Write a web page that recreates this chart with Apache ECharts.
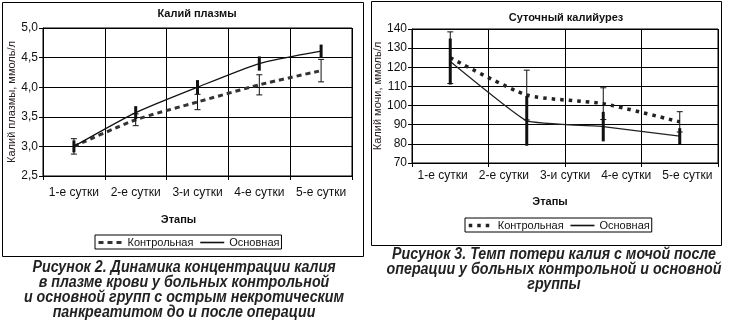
<!DOCTYPE html>
<html>
<head>
<meta charset="utf-8">
<script src="https://cdn.jsdelivr.net/npm/echarts@6/dist/echarts.min.js"></script>
<style>
  html, body { margin: 0; padding: 0; background: #fff; }
  #chart { width: 730px; height: 322px; }
</style>
</head>
<body>
<div id="chart"></div>
<script>
// Stage labels shared by both panels
const stageLabels = ['1-е сутки', '2-е сутки', '3-и сутки', '4-е сутки', '5-е сутки'];

// Plasma potassium, mmol/l (mean and half-width of error bar)
const plasmaControl = [3.0, 3.45, 3.75, 4.04, 4.28];
const plasmaControlErr = [0.13, 0.10, 0.13, 0.17, 0.19];
const plasmaMain = [3.0, 3.57, 4.0, 4.4, 4.61];
const plasmaMainErr = [0.10, 0.11, 0.12, 0.12, 0.11];
const plasmaTicks = ['2,5', '3,0', '3,5', '4,0', '4,5', '5,0'];

// Daily urinary potassium, mmol/l — four measurement points
const urineSamples = ['A', 'B', 'C', 'D'];
const urineControl = [125, 105.5, 101, 91.5];
const urineControlErr = [13.5, 13, 8.3, 5.3];
const urineMain = [123, 92, 89, 84];
const urineMainErr = [12, 13, 7.7, 4.2];

const FONT = 'Liberation Sans, Arial, sans-serif';
const INK = '#111';

function errData(vals, errs) {
  return vals.map((v, i) => [i, v - errs[i], v + errs[i]]);
}

// Vertical error bar, optionally with horizontal caps
function errBar(capHalf, width) {
  return function (params, api) {
    const i = api.value(0);
    const lo = api.coord([i, api.value(1)]);
    const hi = api.coord([i, api.value(2)]);
    const style = { stroke: INK, lineWidth: width };
    const children = [{ type: 'line', shape: { x1: lo[0], y1: lo[1], x2: hi[0], y2: hi[1] }, style }];
    if (capHalf > 0) {
      children.push({ type: 'line', shape: { x1: lo[0] - capHalf, y1: lo[1], x2: lo[0] + capHalf, y2: lo[1] }, style });
      children.push({ type: 'line', shape: { x1: hi[0] - capHalf, y1: hi[1], x2: hi[0] + capHalf, y2: hi[1] }, style });
    }
    return { type: 'group', children };
  };
}

const axisLine = { show: true, lineStyle: { color: '#000', width: 1 } };
const axisTick = { show: true, length: 4, lineStyle: { color: '#000' } };
const splitLine = { show: true, lineStyle: { color: '#000', width: 1 } };

const chart = echarts.init(document.getElementById('chart'), null, { renderer: 'canvas' });

const captionStyle = {
  font: 'italic bold 16px "Liberation Sans", Arial, sans-serif',
  fill: '#222',
  textAlign: 'center',
  textVerticalAlign: 'middle'
};

function caption(text, x, y) {
  return { type: 'text', x, y, scaleX: 0.89, style: Object.assign({ text }, captionStyle), silent: true };
}

const hiddenSymbol = { opacity: 0, color: 'transparent', borderWidth: 0 };

function legendBox(left, top, dashLine) {
  return {
    left, top, orient: 'horizontal',
    borderColor: '#000', borderWidth: 1, padding: [2, 2, 1, 2],
    itemWidth: 24, itemHeight: 10, itemGap: 6,
    itemStyle: hiddenSymbol,
    textStyle: { fontSize: 11, color: INK, fontFamily: FONT },
    data: [
      { name: 'Контрольная', itemStyle: hiddenSymbol, lineStyle: dashLine },
      { name: 'Основная', itemStyle: hiddenSymbol, lineStyle: { width: 1.6, color: INK, type: 'solid' } }
    ]
  };
}

chart.setOption({
  animation: false,
  textStyle: { fontFamily: FONT },
  graphic: [
    { type: 'rect', shape: { x: 2.5, y: 2.5, width: 361, height: 254 }, style: { fill: 'none', stroke: '#000', lineWidth: 1 }, silent: true },
    { type: 'rect', shape: { x: 371.5, y: 1.5, width: 350, height: 244 }, style: { fill: 'none', stroke: '#000', lineWidth: 1 }, silent: true },
    { type: 'text', x: 197, y: 14, style: { text: 'Калий плазмы', font: 'bold 11px ' + FONT, fill: INK, textAlign: 'center', textVerticalAlign: 'middle' } },
    { type: 'text', x: 566, y: 18, style: { text: 'Суточный калийурез', font: 'bold 11px ' + FONT, fill: INK, textAlign: 'center', textVerticalAlign: 'middle' } },
    caption('Рисунок 2. Динамика концентрации калия', 184, 268),
    caption('в плазме крови у больных контрольной', 184, 283),
    caption('и основной групп с острым некротическим', 184, 298),
    caption('панкреатитом до и после операции', 184, 313),
    caption('Рисунок 3. Темп потери калия с мочой после', 554, 255),
    caption('операции у больных контрольной и основной', 554, 270),
    caption('группы', 554, 285)
  ],
  grid: [
    { left: 43, top: 28, width: 309, height: 148, show: true, borderColor: '#000', borderWidth: 1, backgroundColor: 'transparent' },
    { left: 412, top: 29, width: 306, height: 134, show: true, borderColor: '#000', borderWidth: 1, backgroundColor: 'transparent' }
  ],
  legend: [
    legendBox(95, 235, { type: [5, 4], width: 3, color: '#333' }),
    legendBox(465, 218, { type: [3.5, 5], width: 3.5, color: '#222' })
  ],
  xAxis: [
    {
      gridIndex: 0, type: 'category', data: stageLabels, boundaryGap: true,
      axisLine, axisTick, splitLine,
      axisLabel: { interval: 0, margin: 11, fontSize: 12, color: INK },
      name: 'Этапы', nameLocation: 'middle', nameGap: 38,
      nameTextStyle: { fontWeight: 'bold', fontSize: 11, color: INK, padding: [0, 38, 0, 0] }
    },
    {
      gridIndex: 1, type: 'category', data: urineSamples, boundaryGap: true,
      axisLine, axisTick, splitLine,
      axisLabel: { show: false },
      name: 'Этапы', nameLocation: 'middle', nameGap: 33,
      nameTextStyle: { fontWeight: 'bold', fontSize: 11, color: INK, padding: [0, 30, 0, 0] }
    },
    {
      gridIndex: 1, type: 'category', data: stageLabels, boundaryGap: true, position: 'bottom',
      axisLine: { show: false }, axisTick: { show: false }, splitLine: { show: false },
      axisLabel: { interval: 0, margin: 7, fontSize: 12, color: INK }
    }
  ],
  yAxis: [
    {
      gridIndex: 0, type: 'value', min: 2.5, max: 5.0, interval: 0.5,
      axisLine, axisTick, splitLine,
      axisLabel: { fontSize: 12, color: INK, margin: 5, formatter: (v) => plasmaTicks[Math.round((v - 2.5) / 0.5)] },
      name: 'Калий плазмы, ммоль/л', nameLocation: 'middle', nameGap: 24,
      nameTextStyle: { fontSize: 11, color: '#2a2020' }
    },
    {
      gridIndex: 1, type: 'value', min: 70, max: 140, interval: 10,
      axisLine, axisTick, splitLine,
      axisLabel: { fontSize: 12, color: INK, margin: 5 },
      name: 'Калий мочи, ммоль/л', nameLocation: 'middle', nameGap: 28,
      nameTextStyle: { fontSize: 11, color: '#2a2020' }
    }
  ],
  series: [
    {
      name: 'Контрольная', type: 'line', xAxisIndex: 0, yAxisIndex: 0, data: plasmaControl,
      symbol: 'none', smooth: 0.2, z: 3, itemStyle: { color: '#333' },
      lineStyle: { type: [5, 4], width: 3, color: '#333' }
    },
    {
      name: 'Основная', type: 'line', xAxisIndex: 0, yAxisIndex: 0, data: plasmaMain,
      symbol: 'none', smooth: 0.2, z: 3, itemStyle: { color: INK },
      lineStyle: { width: 1.3, color: INK }
    },
    {
      type: 'custom', xAxisIndex: 0, yAxisIndex: 0, z: 4,
      data: errData(plasmaControl, plasmaControlErr), encode: { x: 0, y: [1, 2] },
      renderItem: errBar(3, 1)
    },
    {
      type: 'custom', xAxisIndex: 0, yAxisIndex: 0, z: 4,
      data: errData(plasmaMain, plasmaMainErr), encode: { x: 0, y: [1, 2] },
      renderItem: errBar(0, 3)
    },
    {
      name: 'Контрольная', type: 'line', xAxisIndex: 1, yAxisIndex: 1, data: urineControl,
      symbol: 'none', smooth: 0.2, z: 3, itemStyle: { color: '#222' },
      lineStyle: { type: [3.5, 5], width: 3.5, color: '#222' }
    },
    {
      name: 'Основная', type: 'line', xAxisIndex: 1, yAxisIndex: 1, data: urineMain,
      symbol: 'none', smooth: 0.1, z: 3, itemStyle: { color: '#222' },
      lineStyle: { width: 1.2, color: '#222' }
    },
    {
      type: 'custom', xAxisIndex: 1, yAxisIndex: 1, z: 4,
      data: errData(urineControl, urineControlErr), encode: { x: 0, y: [1, 2] },
      renderItem: errBar(3, 1)
    },
    {
      type: 'custom', xAxisIndex: 1, yAxisIndex: 1, z: 4,
      data: errData(urineMain, urineMainErr), encode: { x: 0, y: [1, 2] },
      renderItem: errBar(0, 3)
    }
  ]
});
</script>
</body>
</html>
